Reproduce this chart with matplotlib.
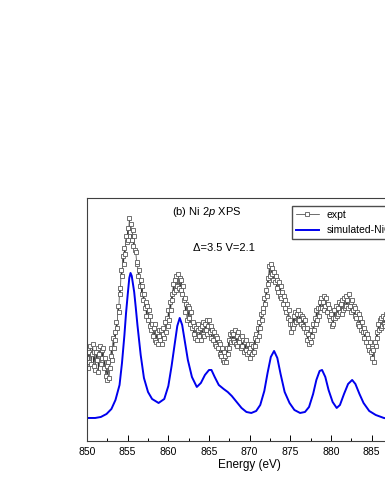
import numpy as np
import matplotlib
matplotlib.use('Agg')
import matplotlib.pyplot as plt
from matplotlib.ticker import MultipleLocator

plt.rcParams['font.family'] = ['Liberation Sans', 'DejaVu Sans']
plt.rcParams['mathtext.fontset'] = 'custom'
plt.rcParams['mathtext.rm'] = 'Liberation Sans'
plt.rcParams['mathtext.it'] = 'Liberation Sans:italic'

# Эксперимент: шаг 0.1 эВ, 850.0 ... 887.0
expt_e = np.linspace(850.0, 887.0, 371)
expt_i = [
    0.80, 0.70, 0.86, 0.76, 0.92, 0.74, 0.84, 0.94, 0.72, 0.86,
    0.68, 0.86, 0.78, 0.90, 0.66, 0.84, 0.92, 0.74, 0.88, 0.80,
    0.90, 0.70, 0.80, 0.62, 0.72, 0.58, 0.76, 0.60, 0.70, 0.82,
    0.90, 0.78, 1.00, 0.90, 1.06, 0.98, 1.16, 1.10, 1.32, 1.26,
    1.50, 1.44, 1.68, 1.62, 1.82, 1.74, 1.90, 1.84, 2.02, 1.96,
    2.10, 1.98, 2.20, 2.06, 2.14, 1.98, 2.08, 1.92, 2.02, 1.88,
    1.86, 1.74, 1.76, 1.62, 1.68, 1.52, 1.58, 1.44, 1.52, 1.38,
    1.44, 1.30, 1.36, 1.22, 1.32, 1.18, 1.28, 1.12, 1.22, 1.08,
    1.14, 1.02, 1.10, 0.98, 1.14, 0.96, 1.06, 0.94, 1.02, 1.08,
    0.98, 1.08, 0.94, 1.04, 1.10, 1.00, 1.16, 1.06, 1.20, 1.12,
    1.28, 1.18, 1.36, 1.28, 1.44, 1.38, 1.54, 1.46, 1.58, 1.48,
    1.62, 1.52, 1.64, 1.50, 1.60, 1.48, 1.58, 1.44, 1.52, 1.38,
    1.40, 1.26, 1.34, 1.18, 1.32, 1.20, 1.30, 1.14, 1.26, 1.10,
    1.16, 1.04, 1.12, 1.00, 1.10, 0.98, 1.08, 1.14, 1.02, 1.10,
    0.98, 1.12, 1.04, 1.16, 1.02, 1.14, 1.08, 1.18, 1.04, 1.12,
    1.18, 1.06, 1.12, 1.00, 1.08, 0.98, 1.06, 0.94, 1.02, 0.92,
    1.00, 0.90, 0.96, 0.84, 0.94, 0.82, 0.90, 0.78, 0.86, 0.76,
    0.82, 0.76, 0.90, 0.84, 0.98, 0.90, 1.04, 0.96, 1.06, 0.98,
    1.04, 0.96, 1.08, 0.94, 1.02, 0.92, 1.06, 0.96, 1.00, 0.90,
    1.02, 0.92, 0.98, 0.86, 0.96, 0.88, 0.98, 0.84, 0.94, 0.86,
    0.90, 0.80, 0.94, 0.84, 0.92, 0.86, 1.00, 0.92, 1.04, 0.98,
    1.10, 1.02, 1.16, 1.10, 1.24, 1.18, 1.30, 1.26, 1.40, 1.34,
    1.48, 1.42, 1.60, 1.54, 1.72, 1.62, 1.74, 1.64, 1.70, 1.58,
    1.66, 1.56, 1.62, 1.50, 1.58, 1.46, 1.56, 1.42, 1.52, 1.40,
    1.46, 1.34, 1.42, 1.30, 1.38, 1.26, 1.34, 1.20, 1.28, 1.14,
    1.18, 1.06, 1.14, 1.10, 1.22, 1.14, 1.26, 1.16, 1.24, 1.18,
    1.28, 1.18, 1.24, 1.14, 1.22, 1.12, 1.20, 1.10, 1.18, 1.06,
    1.10, 0.98, 1.04, 0.94, 1.00, 0.96, 1.08, 1.02, 1.14, 1.08,
    1.20, 1.14, 1.28, 1.18, 1.30, 1.22, 1.36, 1.30, 1.40, 1.30,
    1.36, 1.28, 1.42, 1.32, 1.40, 1.26, 1.34, 1.22, 1.30, 1.18,
    1.24, 1.12, 1.20, 1.14, 1.28, 1.20, 1.32, 1.22, 1.30, 1.24,
    1.36, 1.26, 1.34, 1.24, 1.38, 1.28, 1.40, 1.30, 1.42, 1.32,
    1.38, 1.30, 1.44, 1.32, 1.36, 1.26, 1.38, 1.28, 1.32, 1.22,
    1.30, 1.20, 1.26, 1.14, 1.24, 1.12, 1.20, 1.08, 1.16, 1.06,
    1.10, 1.00, 1.06, 0.96, 1.04, 0.92, 1.00, 0.88, 0.96, 0.86,
    0.90, 0.80, 0.88, 0.76, 0.96, 0.92, 1.06, 1.00, 1.14, 1.08,
    1.18, 1.10, 1.20, 1.12, 1.22, 1.14, 1.20, 1.12, 1.24, 1.16,
    1.20,
]

# Расчёт (simulated)
sim_e = [849.0, 850.0, 851.0, 851.7, 852.4, 853.0, 853.5, 854.0, 854.3, 854.6,
         854.8, 855.0, 855.2, 855.35, 855.5, 855.8, 856.0, 856.2, 856.6, 857.0,
         857.5, 858.0, 858.8, 859.5, 860.0, 860.4, 860.8, 861.1, 861.4, 861.7,
         862.0, 862.4, 862.9, 863.5, 864.0, 864.5, 865.0, 865.3, 865.7, 866.2,
         866.8, 867.3, 867.8, 868.4, 869.0, 869.6, 870.2, 870.8, 871.3, 871.8,
         872.2, 872.6, 873.0, 873.4, 873.8, 874.3, 874.9, 875.5, 876.2, 876.8,
         877.3, 877.8, 878.2, 878.6, 878.9, 879.3, 879.7, 880.2, 880.7, 881.1,
         881.6, 882.1, 882.6, 883.0, 883.5, 884.0, 884.7, 885.5, 886.5, 888.0]
sim_i = [0.19, 0.20, 0.20, 0.21, 0.24, 0.29, 0.38, 0.53, 0.75, 1.03,
         1.25, 1.43, 1.60, 1.65, 1.62, 1.46, 1.30, 1.13, 0.83, 0.60,
         0.46, 0.39, 0.35, 0.39, 0.52, 0.72, 0.95, 1.12, 1.20, 1.13,
         0.98, 0.78, 0.61, 0.51, 0.55, 0.63, 0.68, 0.68, 0.61, 0.53,
         0.49, 0.46, 0.42, 0.36, 0.30, 0.26, 0.25, 0.27, 0.33, 0.47,
         0.65, 0.81, 0.87, 0.80, 0.64, 0.46, 0.35, 0.28, 0.25, 0.26,
         0.31, 0.44, 0.58, 0.67, 0.68, 0.61, 0.48, 0.36, 0.30, 0.33,
         0.44, 0.54, 0.58, 0.54, 0.44, 0.35, 0.27, 0.23, 0.20, 0.18]

fig = plt.figure(figsize=(3.85, 4.98), dpi=100)
# ось уходит за правый край картинки, как в оригинале
ax = fig.add_axes([0.226, 0.1145, 0.845, 0.488])

ax.plot(expt_e, expt_i, color='0.2', lw=0.5, marker='s', ms=3.0,
        mfc='white', mec='0.35', mew=0.6, label='expt')
ax.plot(sim_e, sim_i, color='#0000ee', lw=1.4, label='simulated-NiO')

ax.set_xlim(850, 890)
ax.set_ylim(-0.03, 2.40)
ax.xaxis.set_major_locator(MultipleLocator(5))
ax.xaxis.set_minor_locator(MultipleLocator(2.5))
ax.tick_params(axis='x', which='major', direction='in', length=4, width=0.7,
               labelsize=7.5, pad=4)
ax.tick_params(axis='x', which='minor', direction='in', length=2.5, width=0.7)
ax.set_yticks([])
for s in ax.spines.values():
    s.set_linewidth(0.8)
    s.set_color('0.25')
ax.set_xlabel('Energy (eV)', fontsize=8.5, labelpad=2)

ax.text(0.262, 0.93, r'(b) Ni $\mathit{2p}$ XPS', transform=ax.transAxes,
        fontsize=8)
ax.text(0.327, 0.78, '\u0394=3.5 V=2.1', transform=ax.transAxes, fontsize=8)

ax.legend(loc='upper left', bbox_to_anchor=(0.63, 0.965), fontsize=7.5,
          fancybox=False, edgecolor='0.3', framealpha=1, borderaxespad=0,
          handlelength=2.2, labelspacing=0.5, borderpad=0.35)

fig.savefig('out.png', dpi=100)
